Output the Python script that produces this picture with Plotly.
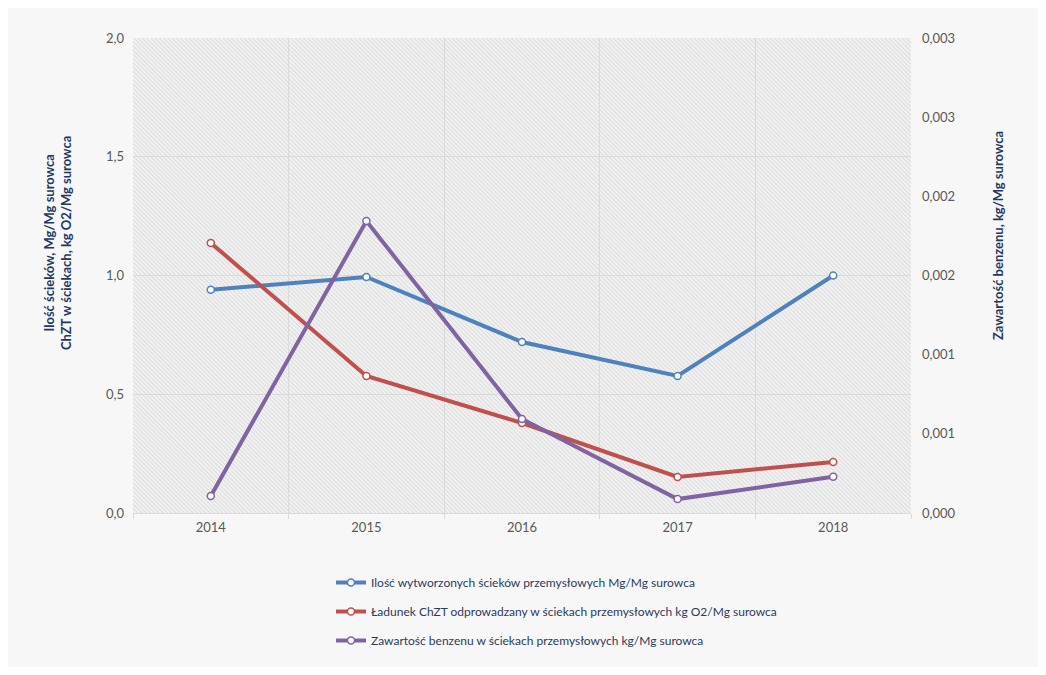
import base64
import plotly.graph_objects as go

# Years on the category axis
years = ["2014", "2015", "2016", "2017", "2018"]

# Left axis series
scieki = [0.94, 0.994, 0.72, 0.577, 1.0]          # Mg/Mg surowca
chzt = [1.137, 0.577, 0.379, 0.152, 0.215]        # kg O2/Mg surowca

# Right axis series
benzen = [0.000107, 0.001844, 0.000594, 0.000088, 0.000229]  # kg/Mg surowca

# Tick labels
left_ticks = [0.0, 0.5, 1.0, 1.5, 2.0]
left_text = ["0,0", "0,5", "1,0", "1,5", "2,0"]
right_ticks = [0.0, 0.0005, 0.001, 0.0015, 0.002, 0.0025, 0.003]
right_text = ["0,000", "0,001", "0,001", "0,002", "0,002", "0,003", "0,003"]

names = [
    "Ilość wytworzonych ścieków przemysłowych Mg/Mg surowca",
    "Ładunek ChZT odprowadzany w ściekach przemysłowych kg O2/Mg surowca",
    "Zawartość benzenu w ściekach przemysłowych kg/Mg surowca",
]
colors = ["#4F81BD", "#C0504D", "#8064A2"]

FONT = "Lato, 'Open Sans', sans-serif"
TICK_COLOR = "#595959"
TITLE_COLOR = "#1F3864"
GRID = "#dadada"

W, H = 1046, 675
L, R, T, B = 133, 135, 38, 162
PW, PH = W - L - R, H - T - B


def px_x(px):
    return (px - L) / PW


def px_y(py):
    return (H - B - py) / PH


# Diagonal hatch used as the plot-area fill
hatch_svg = (
    f"<svg xmlns='http://www.w3.org/2000/svg' width='{PW}' height='{PH}'>"
    "<defs><pattern id='h' width='3' height='3' patternUnits='userSpaceOnUse' "
    "patternTransform='rotate(-45)'>"
    "<rect width='3' height='3' fill='#f1f1f1'/>"
    "<line x1='0.5' y1='0' x2='0.5' y2='3' stroke='#dddddd' stroke-width='1'/>"
    "</pattern></defs>"
    "<rect width='100%' height='100%' fill='url(#h)'/></svg>"
)
hatch_uri = "data:image/svg+xml;base64," + base64.b64encode(hatch_svg.encode()).decode()

fig = go.Figure()

series = [(scieki, "y"), (chzt, "y"), (benzen, "y2")]
for i, (vals, yax) in enumerate(series):
    fig.add_trace(go.Scatter(
        x=years, y=vals, name=names[i], yaxis=yax,
        mode="lines+markers",
        line=dict(color=colors[i], width=4),
        marker=dict(symbol="circle", size=7, color="white",
                    line=dict(color=colors[i], width=1.5)),
        legendgroup=f"g{i}",
    ))

fig.update_layout(
    width=W, height=H,
    margin=dict(l=L, r=R, t=T, b=B, pad=0),
    paper_bgcolor="#f7f7f7",
    plot_bgcolor="rgba(0,0,0,0)",
    font=dict(family=FONT, size=13, color=TICK_COLOR),
    showlegend=True,
    legend=dict(
        x=px_x(331), y=px_y(568), xanchor="left", yanchor="top",
        orientation="v", traceorder="grouped", tracegroupgap=10,
        itemwidth=30, bgcolor="rgba(0,0,0,0)",
        font=dict(family=FONT, size=12, color="#2E3A5C"),
    ),
    xaxis=dict(
        type="category", tickson="boundaries", range=[-0.5, 4.5],
        showgrid=True, gridcolor=GRID, gridwidth=1,
        ticks="outside", ticklen=5, tickcolor=GRID,
        showline=True, linecolor=GRID,
        zeroline=False, ticklabelstandoff=2,
        tickfont=dict(family=FONT, size=13, color=TICK_COLOR),
    ),
    yaxis=dict(
        range=[0, 2.0], tickvals=left_ticks, ticktext=left_text,
        showgrid=True, gridcolor=GRID, gridwidth=1,
        zeroline=False, showline=False, ticks="",
        ticklabelstandoff=8,
        tickfont=dict(family=FONT, size=13, color=TICK_COLOR),
    ),
    yaxis2=dict(
        overlaying="y", side="right",
        range=[0, 0.003], tickvals=right_ticks, ticktext=right_text,
        showgrid=False, zeroline=False, showline=False, ticks="",
        ticklabelstandoff=10,
        tickfont=dict(family=FONT, size=13, color=TICK_COLOR),
    ),
    images=[dict(
        source=hatch_uri, xref="x domain", yref="y domain",
        x=0, y=1, sizex=1, sizey=1, xanchor="left", yanchor="top",
        sizing="stretch", layer="below",
    )],
    shapes=[dict(
        type="rect", xref="paper", yref="paper",
        x0=px_x(0), x1=px_x(W), y0=px_y(H), y1=px_y(0),
        line=dict(color="white", width=16), fillcolor="rgba(0,0,0,0)",
        layer="above",
    )],
    annotations=[
        dict(
            text="<b>Ilość ścieków, Mg/Mg surowca<br>ChZT w ściekach, kg O2/Mg surowca</b>",
            x=px_x(57), y=px_y(243), xref="paper", yref="paper",
            xanchor="center", yanchor="middle", textangle=-90,
            showarrow=False, align="center",
            font=dict(family=FONT, size=13, color=TITLE_COLOR),
        ),
        dict(
            text="<b>Zawartość benzenu, kg/Mg surowca</b>",
            x=px_x(998), y=px_y(236), xref="paper", yref="paper",
            xanchor="center", yanchor="middle", textangle=-90,
            showarrow=False,
            font=dict(family=FONT, size=13, color=TITLE_COLOR),
        ),
    ],
)

fig.write_html("out.html")
